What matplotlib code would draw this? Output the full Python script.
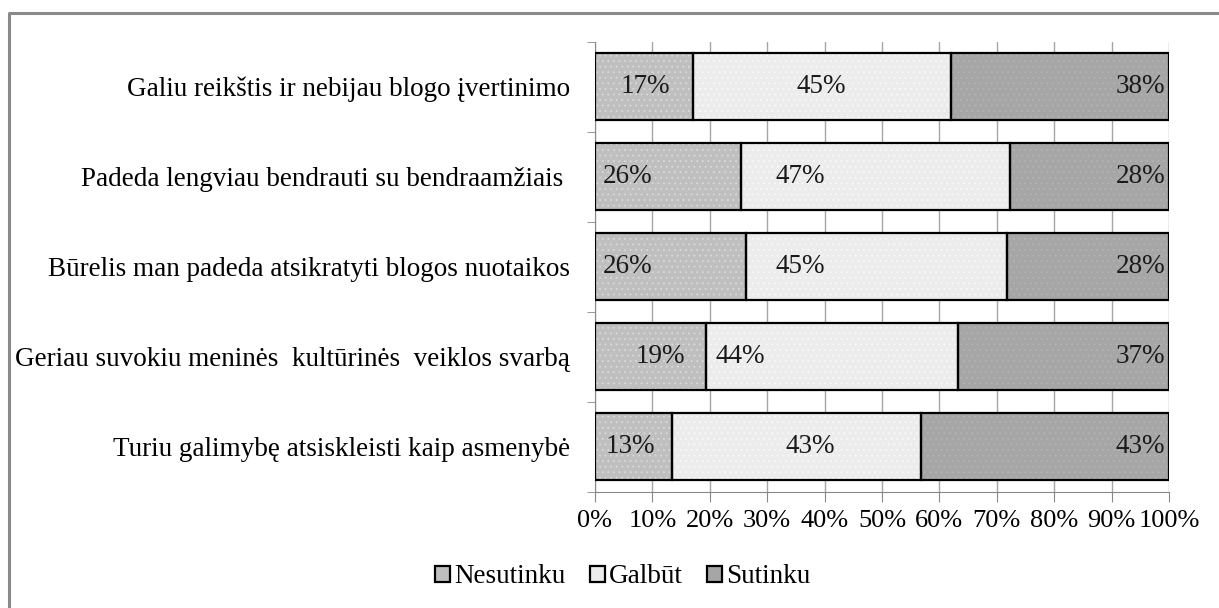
import numpy as np
import matplotlib.pyplot as plt
from matplotlib.lines import Line2D
from matplotlib.patches import Patch

plt.rcParams['font.family'] = ['Liberation Serif', 'DejaVu Serif']
plt.rcParams['hatch.linewidth'] = 0.6

# data (top to bottom)
categories = [
    "Galiu reikštis ir nebijau blogo įvertinimo",
    "Padeda lengviau bendrauti su bendraamžiais ",
    "Būrelis man padeda atsikratyti blogos nuotaikos",
    "Geriau suvokiu meninės  kultūrinės  veiklos svarbą",
    "Turiu galimybę atsiskleisti kaip asmenybė",
]
nesutinku = [17.1, 25.5, 26.3, 19.3, 13.4]
galbut = [44.9, 46.8, 45.4, 43.9, 43.4]
sutinku = [38.0, 27.7, 28.3, 36.8, 43.2]
series_names = ["Nesutinku", "Galbūt", "Sutinku"]
ticks = [0, 10, 20, 30, 40, 50, 60, 70, 80, 90, 100]

# where the value labels sit (x, in %), as placed in the original
label_x = [
    [8.7, 39.5, 95.0],
    [5.7, 35.7, 95.0],
    [5.7, 35.7, 95.0],
    [11.3, 25.3, 95.0],
    [6.1, 37.5, 95.0],
]

fills = ["#bfbfbf", "#ececec", "#a6a6a6"]
dots = ["#dadada", "#fafafa", "#b4b4b4"]

fig = plt.figure(figsize=(12.19, 6.08), dpi=100)
ax = fig.add_axes([595 / 1219, 1 - 491.5 / 608, 574 / 1219, 450 / 608])

y = np.arange(len(categories))
data = [nesutinku, galbut, sutinku]
left = np.zeros(len(categories))
for vals, fc, dc in zip(data, fills, dots):
    vals = np.array(vals)
    ax.barh(y, vals, left=left, height=0.745, color=fc, edgecolor=dc,
            hatch='...', linewidth=0, zorder=2)
    ax.barh(y, vals, left=left, height=0.745, fill=False,
            edgecolor='black', linewidth=1.6, zorder=3)
    left += vals

for i in range(len(categories)):
    for j in range(3):
        ax.text(label_x[i][j], y[i], "%d%%" % round(data[j][i]),
                ha='center', va='center', fontsize=19.5, color='#1a1a1a', zorder=4)

ax.set_xlim(0, 100)
ax.set_ylim(len(categories) - 0.5, -0.5)
ax.set_xticks(ticks)
ax.set_xticklabels(["%d%%" % t for t in ticks], fontsize=19)
ax.set_yticks(y)
ax.set_yticklabels(categories, fontsize=19.5)
ax.set_yticks(np.arange(-0.5, len(categories)), minor=True)
ax.tick_params(axis='y', which='major', length=0, pad=18)
ax.tick_params(axis='y', which='minor', length=6, color='#888888', direction='out')
ax.tick_params(axis='x', length=7, color='#888888', direction='out', pad=6)
ax.grid(axis='x', color='#a6a6a6', linewidth=1, zorder=0)
ax.set_axisbelow(True)
for s in ['top', 'right']:
    ax.spines[s].set_visible(False)
ax.spines['left'].set_color('#888888')
ax.spines['bottom'].set_color('#888888')

handles = [Patch(facecolor=fc, edgecolor='black', linewidth=1.6)
           for fc in fills]
fig.legend(handles, series_names, loc='center', bbox_to_anchor=(0.511, 0.051),
           ncol=3, frameon=False, fontsize=19.5, handlelength=0.55, handleheight=0.55,
           handletextpad=0.15, columnspacing=0.9)

# outer chart border (top and left visible)
bx = 8.5 / 1219
by = 1 - 12.5 / 608
fig.add_artist(Line2D([bx, bx, 1], [0, by, by], transform=fig.transFigure,
                      color='#8a8a8a', linewidth=2.2))

fig.savefig("out.png", dpi=100)
